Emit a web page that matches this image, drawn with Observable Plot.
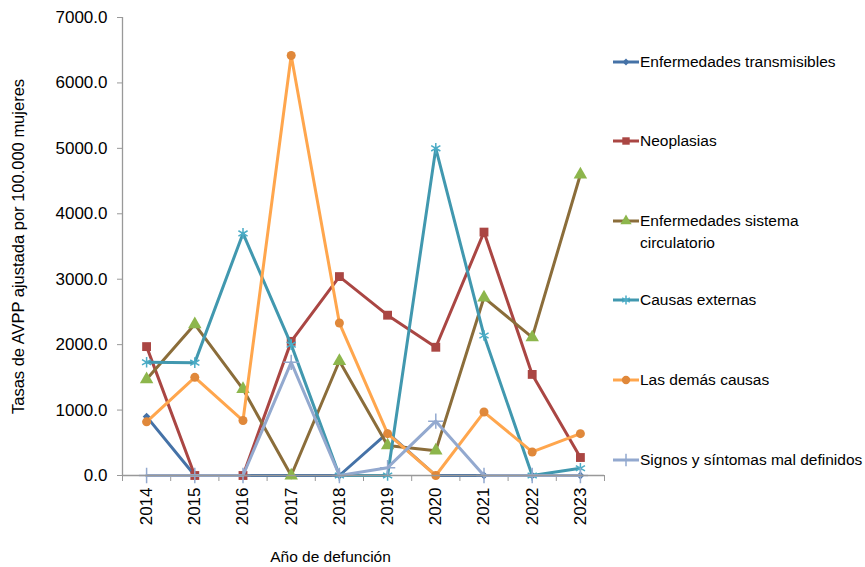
<!DOCTYPE html>
<html>
<head>
<meta charset="utf-8">
<script src="https://cdn.jsdelivr.net/npm/d3@7"></script>
<script src="https://cdn.jsdelivr.net/npm/@observablehq/plot@0.6"></script>
<style>
  body { margin: 0; background: #fff; }
  #wrap { position: relative; width: 865px; height: 567px; font-family: "Liberation Sans", Arial, sans-serif; }
  #legend { position: absolute; left: 0; top: 0; width: 865px; }
  .item { position: absolute; left: 612px; display: flex; align-items: flex-start; font-size: 15.5px; color: #000; line-height: 22px; white-space: nowrap; }
  .item svg { flex: none; }
</style>
</head>
<body>
<div id="wrap"><div id="chart"></div><div id="legend"></div></div>
<script>
const years = [2014, 2015, 2016, 2017, 2018, 2019, 2020, 2021, 2022, 2023];
const seriesNames = [
  "Enfermedades transmisibles",
  "Neoplasias",
  "Enfermedades sistema circulatorio",
  "Causas externas",
  "Las demás causas",
  "Signos y síntomas mal definidos"
];
const transmisibles = [900, 0, 0, 0, 0, 650, 0, 0, 0, 0];
const neoplasias = [1970, 0, 0, 2050, 3040, 2450, 1960, 3720, 1545, 275];
const circulatorio = [1470, 2310, 1320, 0, 1750, 460, 380, 2720, 2110, 4600];
const externas = [1730, 1725, 3700, 2000, 0, 0, 5000, 2140, 0, 110];
const demas = [820, 1500, 840, 6420, 2330, 640, 0, 970, 360, 640];
const signos = [0, 0, 0, 1730, 0, 120, 830, 0, 0, 0];
const seriesValues = [transmisibles, neoplasias, circulatorio, externas, demas, signos];
const yTicks = [0, 1000, 2000, 3000, 4000, 5000, 6000, 7000];
const xLabel = "Año de defunción";
const yLabel = "Tasas de AVPP ajustada por 100.000 mujeres";

const styles = [
  {line: "#4572A7", fill: "#4572A7", stroke: "none", symbol: "diamond2", r: 3.5},
  {line: "#AA4643", fill: "#AA4643", stroke: "none", symbol: "square", r: 5},
  {line: "#8B6D3A", fill: "#8DB64C", stroke: "none", symbol: "triangle", r: 5},
  {line: "#4198AF", fill: "none", stroke: "#4BACC6", symbol: "asterisk", r: 5},
  {line: "#FFA64D", fill: "#E0883A", stroke: "none", symbol: "circle", r: 4.5},
  {line: "#93A9CF", fill: "none", stroke: "#93A9CF", symbol: "plus", r: 5}
];

const font = '"Liberation Sans", Arial, sans-serif';

const marks = [];
seriesNames.forEach((name, i) => {
  const data = years.map((y, j) => ({year: y, value: seriesValues[i][j], serie: name}));
  const s = styles[i];
  marks.push(Plot.line(data, {x: "year", y: "value", stroke: s.line, strokeWidth: 3}));
  marks.push(Plot.dot(data, {x: "year", y: "value", symbol: () => s.symbol, r: s.r, fill: s.fill, stroke: s.stroke, strokeWidth: 1.5}));
});

const boundaries = d3.range(2013.5, 2024, 1);

const chart = Plot.plot({
  width: 865,
  height: 567,
  marginLeft: 122,
  marginRight: 261,
  marginTop: 17,
  marginBottom: 92,
  style: {fontFamily: font, fontSize: "17px", color: "#000", background: "#fff"},
  x: {domain: [2013.5, 2023.5], type: "linear"},
  y: {domain: [0, 7000]},
  symbol: {domain: ["diamond2", "square", "triangle", "asterisk", "circle", "plus"], range: ["diamond2", "square", "triangle", "asterisk", "circle", "plus"]},
  marks: [
    Plot.axisY({ticks: yTicks, tickFormat: d => d3.format(".1f")(d), tickSize: 5, tickPadding: 10, stroke: "#999", label: null, fontSize: 17}),
    Plot.axisX({ticks: years, tickFormat: d => String(d), tickSize: 0, tickRotate: -90, tickPadding: 12, label: null, fontSize: 17}),
    Plot.axisX({ticks: boundaries, tickFormat: () => "", tickSize: 6, stroke: "#999", label: null}),
    Plot.ruleX([2013.5], {stroke: "#999", strokeWidth: 1.3}),
    ...marks,
    Plot.ruleY([0], {stroke: "#999", strokeWidth: 1.3}),
    Plot.text([yLabel], {frameAnchor: "left", dx: -104, rotate: -90, textAnchor: "middle", text: d => d, fontSize: 16.5, fill: "#000"}),
    Plot.text([xLabel], {frameAnchor: "bottom", dx: -33, dy: 86, text: d => d, fontSize: 15.5, fill: "#000"})
  ]
});
document.getElementById("chart").appendChild(chart);

// legend
const legendY = [62, 141, 221, 300, 380, 460];
const legend = document.getElementById("legend");
seriesNames.forEach((name, i) => {
  const s = styles[i];
  const div = document.createElement("div");
  div.className = "item";
  div.style.top = (legendY[i] - 11) + "px";
  const sym = d3.symbol().type({
    diamond2: d3.symbolDiamond2, square: d3.symbolSquare, triangle: d3.symbolTriangle,
    asterisk: d3.symbolAsterisk, circle: d3.symbolCircle, plus: d3.symbolPlus
  }[s.symbol]).size(s.symbol === "diamond2" ? 30 : 55)();
  div.innerHTML = `<svg width="28" height="22"><line x1="1" x2="27" y1="11" y2="11" stroke="${s.line}" stroke-width="3"/><path transform="translate(14,11)" d="${sym}" fill="${s.fill}" stroke="${s.stroke}" stroke-width="1.5"/></svg>` +
    `<span>${name === "Enfermedades sistema circulatorio" ? "Enfermedades sistema<br>circulatorio" : name}</span>`;
  legend.appendChild(div);
});
</script>
</body>
</html>
